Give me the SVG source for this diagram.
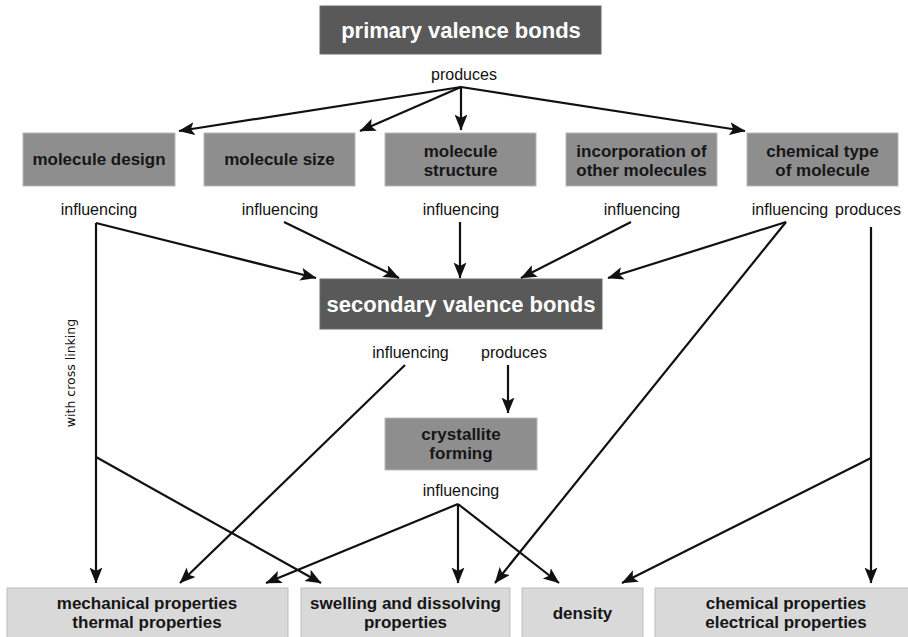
<svg xmlns="http://www.w3.org/2000/svg" width="908" height="637" viewBox="0 0 908 637">
  <style>
    .bg { fill: #ffffff; }
    .dark rect { fill: #595959; stroke: #6a6a6a; stroke-width: 1; }
    .dark text { fill: #ffffff; font-family: "Liberation Sans", Arial, sans-serif; font-weight: bold; font-size: 22px; text-anchor: middle; }
    .mid rect { fill: #8e8e8e; stroke: #b8b8b8; stroke-width: 1; }
    .mid text, .light text { fill: #161616; font-family: "Liberation Sans", Arial, sans-serif; font-weight: bold; font-size: 17px; text-anchor: middle; }
    .light rect { fill: #d9d9d9; stroke: #bdbdbd; stroke-width: 1; }
    .lbl { fill: #111111; font-family: "Liberation Sans", Arial, sans-serif; font-size: 16px; text-anchor: middle; }
    .side { fill: #111111; font-family: "DejaVu Sans", Verdana, sans-serif; font-size: 12.5px; text-anchor: middle; }
    #connectors path { fill: none; stroke: #111111; stroke-width: 2.2; }
    #connectors path.arr { marker-end: url(#head); }
  </style>
  <defs>
    <marker id="head" markerUnits="userSpaceOnUse" markerWidth="17" markerHeight="14" refX="15.5" refY="6.5" orient="auto">
      <path d="M0,0 L16,6.5 L0,13 L3.5,6.5 z" fill="#111111"/>
    </marker>
  </defs>

  <rect class="bg" x="0" y="0" width="908" height="637"/>

  <!-- top level -->
  <g id="primary" class="dark">
    <rect x="320" y="6" width="281" height="48"/>
    <text x="461" y="38">primary valence bonds</text>
  </g>

  <!-- second row -->
  <g id="design" class="mid">
    <rect x="23" y="133" width="152" height="53"/>
    <text x="99" y="165">molecule design</text>
  </g>
  <g id="size" class="mid">
    <rect x="204" y="133" width="151" height="53"/>
    <text x="279.5" y="165">molecule size</text>
  </g>
  <g id="structure" class="mid">
    <rect x="385" y="133" width="151" height="53"/>
    <text x="460.5" y="157">molecule</text>
    <text x="460.5" y="176">structure</text>
  </g>
  <g id="incorporation" class="mid">
    <rect x="566" y="133" width="151" height="53"/>
    <text x="641.5" y="157">incorporation of</text>
    <text x="641.5" y="176">other molecules</text>
  </g>
  <g id="chemtype" class="mid">
    <rect x="747" y="133" width="151" height="53"/>
    <text x="822.5" y="157">chemical type</text>
    <text x="822.5" y="176">of molecule</text>
  </g>

  <!-- middle level -->
  <g id="secondary" class="dark">
    <rect x="320" y="279" width="282" height="50"/>
    <text x="461" y="312">secondary valence bonds</text>
  </g>
  <g id="crystallite" class="mid">
    <rect x="385" y="418" width="152" height="52"/>
    <text x="461" y="440">crystallite</text>
    <text x="461" y="459">forming</text>
  </g>

  <!-- properties -->
  <g id="mechanical" class="light">
    <rect x="7" y="588" width="281" height="55"/>
    <text x="147" y="609">mechanical properties</text>
    <text x="147" y="628">thermal properties</text>
  </g>
  <g id="swelling" class="light">
    <rect x="301" y="588" width="209" height="55"/>
    <text x="405.5" y="609">swelling and dissolving</text>
    <text x="405.5" y="628">properties</text>
  </g>
  <g id="density" class="light">
    <rect x="522" y="588" width="121" height="55"/>
    <text x="582.5" y="619">density</text>
  </g>
  <g id="chemprops" class="light">
    <rect x="655" y="588" width="262" height="55"/>
    <text x="786" y="609">chemical properties</text>
    <text x="786" y="628">electrical properties</text>
  </g>

  <!-- relation labels -->
  <g id="labels">
    <text class="lbl" x="464" y="80">produces</text>
    <text class="lbl" x="99" y="215">influencing</text>
    <text class="lbl" x="280" y="215">influencing</text>
    <text class="lbl" x="461" y="215">influencing</text>
    <text class="lbl" x="642" y="215">influencing</text>
    <text class="lbl" x="790" y="215">influencing</text>
    <text class="lbl" x="868" y="215">produces</text>
    <text class="lbl" x="410.5" y="358">influencing</text>
    <text class="lbl" x="514" y="358">produces</text>
    <text class="lbl" x="461" y="496">influencing</text>
    <text class="side" transform="translate(75,373) rotate(-90)">with cross linking</text>
  </g>

  <g id="connectors">
    <!-- primary valence bonds produces -->
    <path class="arr" d="M461,87 L179,131"/>
    <path class="arr" d="M461,87 L360,131"/>
    <path class="arr" d="M461,87 L461,130"/>
    <path class="arr" d="M461,87 L745,131"/>
    <!-- influences on secondary valence bonds -->
    <path class="arr" d="M96,223 L316,278"/>
    <path class="arr" d="M284,222 L399,278"/>
    <path class="arr" d="M460,222 L460,278"/>
    <path class="arr" d="M631,222 L521,278"/>
    <path class="arr" d="M786,222 L608,278"/>
    <!-- molecule design with cross linking -->
    <path class="arr" d="M96,223 L96,583"/>
    <path class="arr" d="M96,457 L321,583"/>
    <!-- chemical type -->
    <path class="arr" d="M786,222 L495,583"/>
    <path class="arr" d="M871,227 L871,583"/>
    <path class="arr" d="M871,458 L622,583"/>
    <!-- secondary valence bonds -->
    <path class="arr" d="M405,365 L180,583"/>
    <path class="arr" d="M508,365 L508,413"/>
    <!-- crystallite forming -->
    <path class="arr" d="M458,504 L266,583"/>
    <path class="arr" d="M458,504 L458,583"/>
    <path class="arr" d="M458,504 L559,583"/>
  </g>
</svg>
